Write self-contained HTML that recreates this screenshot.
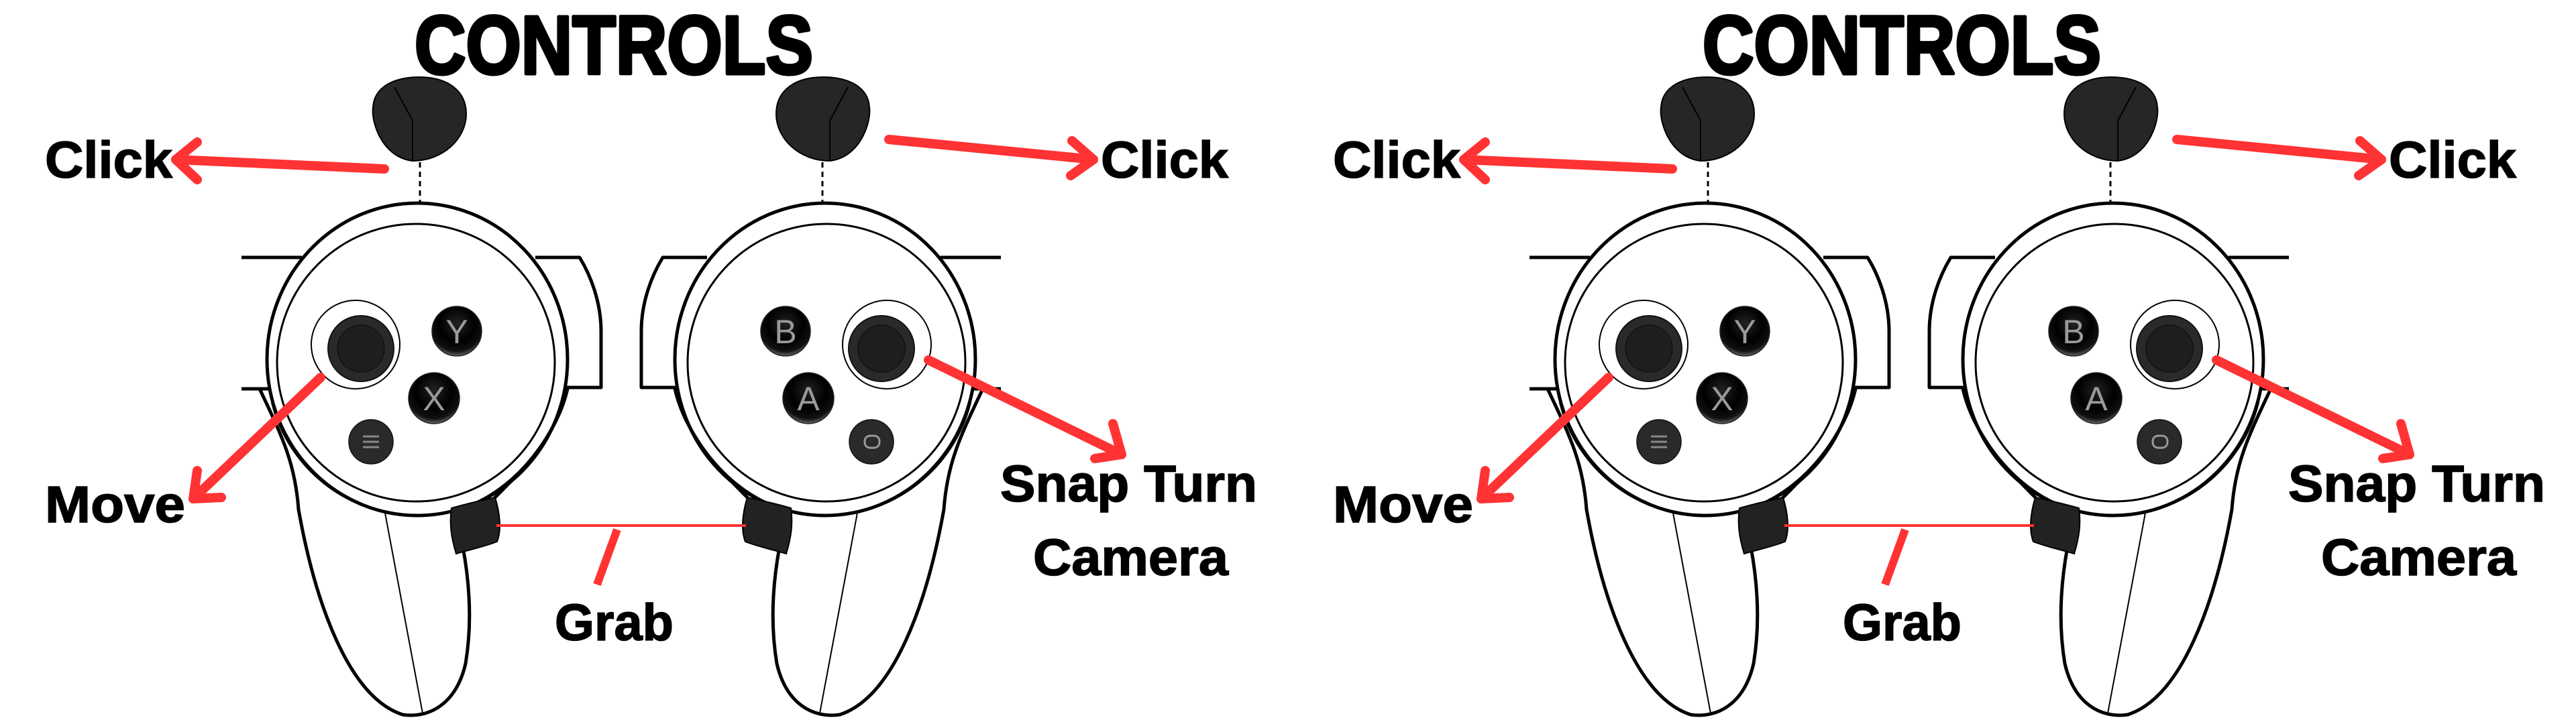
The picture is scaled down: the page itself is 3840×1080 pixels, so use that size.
<!DOCTYPE html>
<html><head><meta charset="utf-8"><style>
html,body{margin:0;padding:0;background:#fff;}
svg{display:block}
text{font-family:"Liberation Sans",sans-serif;font-weight:bold;fill:#000}
.t{stroke:#000;stroke-width:5;stroke-linejoin:round}
.l{stroke:#000;stroke-width:1.5}
</style></head><body>
<svg width="3840" height="1080" viewBox="0 0 3840 1080" xmlns="http://www.w3.org/2000/svg">
<defs>
<radialGradient id="btn" cx="50%" cy="35%" r="65%">
<stop offset="0" stop-color="#222"/><stop offset="0.55" stop-color="#000"/><stop offset="0.85" stop-color="#111"/><stop offset="1" stop-color="#666"/>
</radialGradient>
<g id="ctrl">
 <path d="M387,580 C420,650 440,690 445,760 C470,900 520,1040 600,1066 C640,1072 680,1050 694,990 C704,930 700,870 690,816 L736,744 C780,700 830,650 846,580 Z" fill="#fff" stroke="#000" stroke-width="5" stroke-linejoin="round"/>
 <line x1="570" y1="744" x2="630" y2="1064" stroke="#000" stroke-width="2"/>
 <path d="M360,384 L450,384" stroke="#000" stroke-width="5"/>
 <path d="M360,580 L395,580" stroke="#000" stroke-width="5"/>
 <path d="M798,384 L864,384 C880,410 896,450 896,494 L896,578 L836,578" fill="#fff" stroke="#000" stroke-width="5" stroke-linejoin="round"/>
 <ellipse cx="622" cy="536" rx="224" ry="233" fill="#fff" stroke="#000" stroke-width="5"/>
 <path d="M405,600 C430,700 520,770 622,769 C720,769 800,700 840,600" fill="none" stroke="#000" stroke-width="2.5"/>
 <circle cx="620" cy="541" r="207" fill="#fff" stroke="#000" stroke-width="3"/>
 <path d="M673,758 C700,750 725,745 738,742 C745,765 748,790 741,808 C720,816 700,820 680,826 C672,800 670,780 673,758 Z" fill="#222" stroke="#000" stroke-width="2"/>
 <circle cx="530" cy="514" r="66" fill="#fff" stroke="#000" stroke-width="2"/>
 <circle cx="538" cy="520" r="49" fill="#2a2a2a" stroke="#111" stroke-width="2"/>
 <circle cx="538" cy="520" r="35" fill="#1e1e1e" stroke="#111" stroke-width="1.5"/>
 <circle cx="681" cy="494" r="37" fill="url(#btn)" stroke="#222" stroke-width="1.5"/>
 <circle cx="647" cy="594" r="38" fill="url(#btn)" stroke="#222" stroke-width="1.5"/>
 <circle cx="553" cy="659" r="33" fill="#2a2a2a" stroke="#111" stroke-width="1.5"/>
 <path d="M615,240 C568,234 553,180 556,160 C558,128 590,115 625,115 C667,115 695,135 695,170 C695,207 660,240 615,240 Z" fill="#262626" stroke="#000" stroke-width="2"/>
 <path d="M588,130 L615,180 L615,240" fill="none" stroke="#000" stroke-width="2"/>
 <line x1="626" y1="242" x2="626" y2="302" stroke="#000" stroke-width="3" stroke-dasharray="8,6"/>
</g>
<g id="half">
 <use href="#ctrl"/>
 <use href="#ctrl" transform="translate(1852,0) scale(-1,1)"/>
 <path d="M541,651 H565 M541,659 H565 M541,667 H565" stroke="#888" stroke-width="3"/>
 <rect x="1289" y="650" width="22" height="18" rx="8" fill="none" stroke="#999" stroke-width="3"/>
 <g stroke="#ff3333" stroke-linecap="round" stroke-linejoin="round" fill="none" stroke-width="14">
  <path d="M573,252 L262,238"/>
  <path d="M294,212 L262,238 L294,268"/>
  <path d="M1325,208 L1630,238"/>
  <path d="M1598,210 L1630,238 L1596,262"/>
  <path d="M478,563 L288,744"/>
  <path d="M294,702 L288,744 L330,742"/>
  <path d="M1384,537 L1672,678"/>
  <path d="M1659,632 L1672,678 L1632,684"/>
  <path d="M920,790 L890,872" stroke-width="12" stroke-linecap="butt"/>
 </g>
 <line x1="740" y1="784" x2="1112" y2="784" stroke="#ff3333" stroke-width="4"/>
</g>
</defs>

<use href="#half"/>
<use href="#half" transform="translate(1920,0)"/>

<g>
 <text class="t" x="915" y="110" font-size="123" text-anchor="middle" textLength="594" lengthAdjust="spacingAndGlyphs">CONTROLS</text>
 <text class="l" x="67" y="265" font-size="77" textLength="190" lengthAdjust="spacingAndGlyphs">Click</text>
 <text class="l" x="1641" y="265" font-size="77" textLength="190" lengthAdjust="spacingAndGlyphs">Click</text>
 <text class="l" x="67" y="779" font-size="77" textLength="209" lengthAdjust="spacingAndGlyphs">Move</text>
 <text class="l" x="1491" y="748" font-size="77" textLength="383" lengthAdjust="spacingAndGlyphs">Snap Turn</text>
 <text class="l" x="1540" y="858" font-size="77" textLength="291" lengthAdjust="spacingAndGlyphs">Camera</text>
 <text class="l" x="827" y="955" font-size="77" textLength="177" lengthAdjust="spacingAndGlyphs">Grab</text>
 <g font-size="50">
  <text x="681" y="512" text-anchor="middle" style="font-weight:normal;fill:#9a9a9a">Y</text>
  <text x="647" y="612" text-anchor="middle" style="font-weight:normal;fill:#9a9a9a">X</text>
  <text x="1171" y="512" text-anchor="middle" style="font-weight:normal;fill:#9a9a9a">B</text>
  <text x="1205" y="612" text-anchor="middle" style="font-weight:normal;fill:#9a9a9a">A</text>
 </g>
</g>
<g transform="translate(1920,0)">
 <text class="t" x="915" y="110" font-size="123" text-anchor="middle" textLength="594" lengthAdjust="spacingAndGlyphs">CONTROLS</text>
 <text class="l" x="67" y="265" font-size="77" textLength="190" lengthAdjust="spacingAndGlyphs">Click</text>
 <text class="l" x="1641" y="265" font-size="77" textLength="190" lengthAdjust="spacingAndGlyphs">Click</text>
 <text class="l" x="67" y="779" font-size="77" textLength="209" lengthAdjust="spacingAndGlyphs">Move</text>
 <text class="l" x="1491" y="748" font-size="77" textLength="383" lengthAdjust="spacingAndGlyphs">Snap Turn</text>
 <text class="l" x="1540" y="858" font-size="77" textLength="291" lengthAdjust="spacingAndGlyphs">Camera</text>
 <text class="l" x="827" y="955" font-size="77" textLength="177" lengthAdjust="spacingAndGlyphs">Grab</text>
 <g font-size="50">
  <text x="681" y="512" text-anchor="middle" style="font-weight:normal;fill:#9a9a9a">Y</text>
  <text x="647" y="612" text-anchor="middle" style="font-weight:normal;fill:#9a9a9a">X</text>
  <text x="1171" y="512" text-anchor="middle" style="font-weight:normal;fill:#9a9a9a">B</text>
  <text x="1205" y="612" text-anchor="middle" style="font-weight:normal;fill:#9a9a9a">A</text>
 </g>
</g>
</svg>
</body></html>
